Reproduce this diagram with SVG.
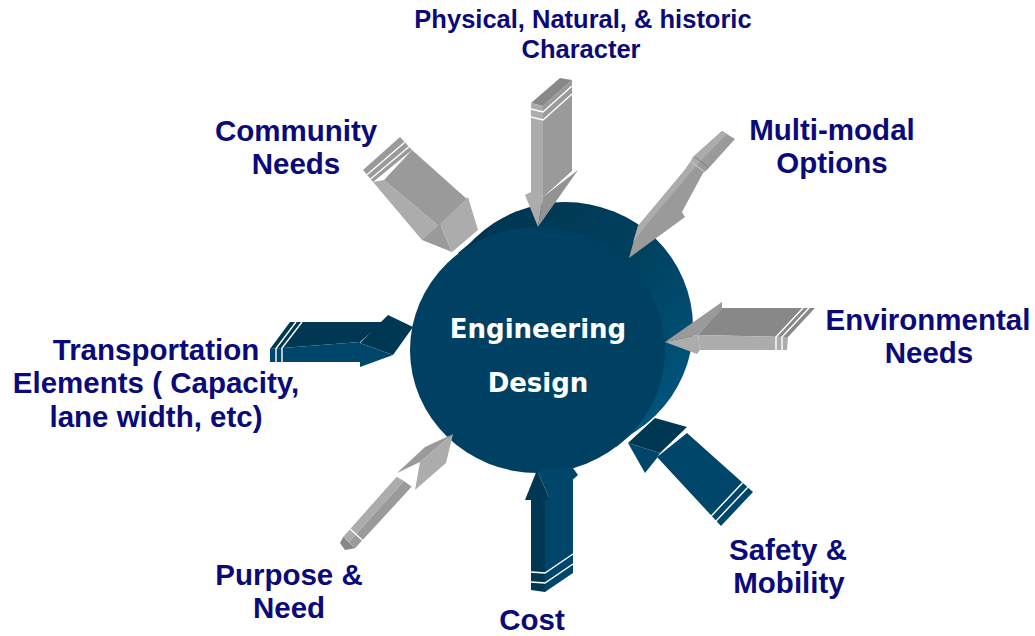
<svg xmlns="http://www.w3.org/2000/svg" width="1035" height="636" viewBox="0 0 1035 636">
<defs>
<linearGradient id="side" x1="0" y1="0" x2="1" y2="1">
<stop offset="0" stop-color="#00324d"/>
<stop offset="0.5" stop-color="#00415f"/>
<stop offset="1" stop-color="#005b88"/>
</linearGradient>
<style>
.g1{fill:#acacac}.g2{fill:#9a9a9a}.g3{fill:#888888}
.b1{fill:#00527a}.b2{fill:#00466a}.b3{fill:#003854}
.gap{stroke:#ffffff;stroke-width:1.4;fill:none}
.lbl{font-family:"Liberation Sans",Arial,sans-serif;font-weight:bold;font-size:29.5px;fill:#0a0a7a;text-anchor:middle}
.top{font-size:25.5px}
.ctr{font-family:"DejaVu Sans",Verdana,sans-serif;font-weight:bold;font-size:26px;fill:#ffffff;text-anchor:middle}
</style>
</defs>
<rect width="1035" height="636" fill="#ffffff"/>

<g id="engineering-design">
<ellipse cx="565" cy="327" rx="128" ry="125" fill="url(#side)"/>
<polygon points="458,253 486,230 644,424 616,447" fill="url(#side)"/>
<ellipse cx="537.5" cy="350" rx="127.5" ry="123" fill="#004163"/>
<text class="ctr" x="538" y="338">Engineering</text>
<text class="ctr" x="538" y="392">Design</text>
</g>

<g id="connectors">
<g id="arrow-community">
<polygon class="g2" points="400,137 412,150 373,182 363,170"/>
<line class="gap" x1="404.8" y1="142.2" x2="367" y2="174.8"/>
<line class="gap" x1="409" y1="146.8" x2="370.5" y2="179"/>
<polygon class="g1" points="373,182 384,180 440,227 422,240"/>
<polygon class="g2" points="384,180 412,150 468,200 440,227"/>
<polygon class="g2" points="422,240 440,224 452,252"/>
<polygon class="g1" points="440,224 468,197 478,230 452,252"/>
</g>
<g id="arrow-physical">
<polygon class="g3" points="531,103 560,78 572,80 543,106"/>
<polygon class="g1" points="531,103 543,106 543,197 531,194"/>
<polygon class="g2" points="543,106 572,80 572,171 543,197"/>
<path class="gap" d="M531,109 L543,112 L572,86 M531,117 L543,120 L572,94"/>
<polygon class="g1" points="525,195 531,192 543,197 538,227"/>
<polygon fill="#939393" points="543,197 578,170 538,227"/>
</g>
<g id="arrow-multimodal">
<polygon class="g2" points="722,131 735,139 707,170 703,173 682,212 685,217 629,258 638,226 684,171 691,161 693,157"/>
<polygon class="g1" points="722,131 727,134 697,165 648,223 633,242 638,226 684,171 691,161 693,157"/>
<line x1="691" y1="162" x2="705" y2="172" stroke="#c0c0c0" stroke-width="1.2"/>
<line x1="695" y1="157" x2="708" y2="167" stroke="#7f7f7f" stroke-width="1"/>
</g>
<g id="arrow-environmental">
<polygon class="g3" points="722,308 815,308 788,337 698,335"/>
<polygon class="g1" points="698,335 788,337 787,350 700,350"/>
<path class="gap" d="M776,350 L776,337 L803,308 M782,350 L782,337 L809,308"/>
<polygon class="g2" points="722,302 722,309 698,335 665,342"/>
<polygon class="g1" points="665,342 698,335 700,350 697,354"/>
</g>
<g id="arrow-transportation">
<polygon class="b3" points="290,322 383,322 360,342 270,349"/>
<polygon class="b2" points="270,349 360,342 360,362 270,362"/>
<path class="gap" d="M276,362 L276,348.5 L296,322 M282,362 L282,348 L302,322"/>
<polygon class="b3" points="360,343 388,315 413,327 393,355"/>
<polygon class="b2" points="360,343 393,355 360,367"/>
</g>
<g id="arrow-safety">
<polygon class="b2" points="657,457 687,433 753,492 721,526"/>
<line class="gap" x1="747.8" y1="487.3" x2="715.8" y2="521.3"/>
<line class="gap" x1="742.6" y1="482.7" x2="710.6" y2="516.7"/>
<polygon class="b3" points="628,443 655,418 687,427 660,453"/>
<polygon class="b2" points="628,443 660,453 657,458 645,473"/>
</g>
<g id="arrow-cost">
<polygon class="b3" points="531,500 545,500 545,592 531,590"/>
<polygon class="b2" points="545,500 573,476 573,573 545,592"/>
<path class="gap" d="M531,572 L545,573 L573,554 M531,582 L545,583 L573,564"/>
<polygon class="b3" points="525,500 537,470 550,500"/>
<polygon class="b2" points="537,470 573,468 578,475 550,500"/>
</g>
<g id="arrow-purpose">
<polygon class="g1" points="396.7,476.7 404,481 349,542 343.3,536.7"/>
<polygon class="g2" points="404,481 411.7,486.7 355,548.3 349,542"/>
<polygon class="g3" points="343.3,536.7 340,543 345,550 355,548.3"/>
<line class="gap" x1="350.2" y1="528.9" x2="362.4" y2="540.3"/>
<polygon class="g2" points="397,473 425,447 453,434 420,462"/>
<polygon class="g1" points="420,462 453,434 446,463 415,490"/>
</g>
</g>

<g id="label-physical">
<text class="lbl top" x="583" y="28">Physical, Natural, &amp; historic</text>
<text class="lbl top" x="581" y="58">Character</text>
</g>
<g id="label-community">
<text class="lbl" x="296" y="141">Community</text>
<text class="lbl" x="296" y="174">Needs</text>
</g>
<g id="label-multimodal">
<text class="lbl" x="832" y="140">Multi-modal</text>
<text class="lbl" x="832" y="173">Options</text>
</g>
<g id="label-environmental">
<text class="lbl" x="928" y="330">Environmental</text>
<text class="lbl" x="929" y="363">Needs</text>
</g>
<g id="label-transportation">
<text class="lbl" x="156" y="360">Transportation</text>
<text class="lbl" x="156" y="393">Elements ( Capacity,</text>
<text class="lbl" x="156" y="427">lane width, etc)</text>
</g>
<g id="label-safety">
<text class="lbl" x="788" y="560">Safety &amp;</text>
<text class="lbl" x="789" y="593">Mobility</text>
</g>
<g id="label-purpose">
<text class="lbl" x="289" y="585">Purpose &amp;</text>
<text class="lbl" x="289" y="618">Need</text>
</g>
<g id="label-cost">
<text class="lbl" x="532" y="630">Cost</text>
</g>
</svg>
